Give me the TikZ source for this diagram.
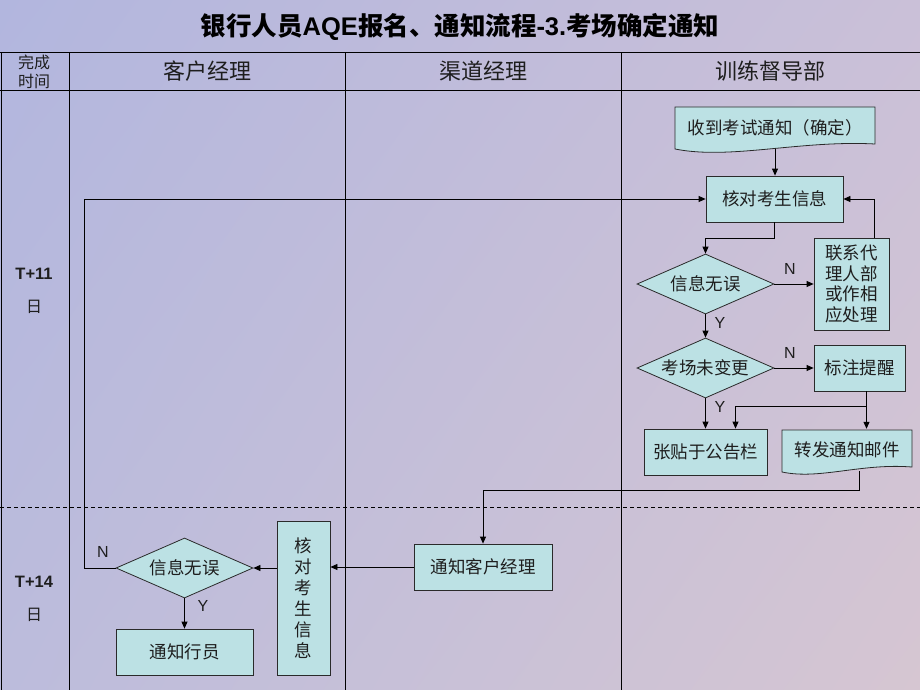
\documentclass[tikz,border=0pt]{standalone}
\usepackage{fontspec}
\setmainfont{Liberation Sans}
\newfontfamily\cjk{Noto Sans CJK SC}
\usetikzlibrary{shapes.geometric,arrows.meta,shadings}
\definecolor{boxfill}{HTML}{BCE1E4}
\definecolor{boxline}{HTML}{2A2A2A}
\definecolor{bgul}{RGB}{178,182,222}
\definecolor{bgur}{RGB}{202,192,216}
\definecolor{bgll}{RGB}{188,188,220}
\definecolor{bglr}{RGB}{214,198,210}
\definecolor{txt}{HTML}{1E1E1E}
\begin{document}
\begin{tikzpicture}[x=1pt,y=-1pt,
  box/.style={draw=boxline, fill=boxfill, line width=0.8pt, inner sep=0pt,
    font=\cjk\fontsize{17.5}{20.7}\selectfont, text=txt, align=center},
  doctext/.style={inner sep=0pt, font=\cjk\fontsize{17.5}{20.7}\selectfont, text=txt, align=center},
  docshape/.style={draw=boxline, fill=boxfill, line width=0.8pt},
  dia/.style={box, shape=diamond, aspect=2.28, minimum width=137pt, minimum height=60pt},
  arr/.style={-{Triangle[length=7pt,width=6pt]}, line width=0.8pt, draw=black},
  yn/.style={font=\fontsize{16}{16}\selectfont, text=txt},
  grid/.style={line width=1pt, draw=black},
  head/.style={font=\cjk\fontsize{22}{24}\selectfont, text=txt},
  timel/.style={font=\bfseries\fontsize{16.5}{18}\selectfont, text=txt},
  timed/.style={font=\cjk\fontsize{16}{18}\selectfont, text=txt}]
\useasboundingbox (0,0) rectangle (920,690);
\shade[upper left=bgul, upper right=bgur, lower left=bgll, lower right=bglr] (0,0) rectangle (920,690);

% title
\node[text=black] (title) at (460,27) {\fontsize{25.5}{28}\selectfont{\cjk\bfseries 银行人员}\textbf{AQE}{\cjk\bfseries 报名、通知流程}\textbf{-3.}{\cjk\bfseries 考场确定通知}};

% table
\draw[grid] (0,53) -- (920,53);
\draw[grid] (0,91) -- (920,91);
\draw[grid] (1,53) -- (1,690);
\draw[grid] (69,53) -- (69,690);
\draw[grid] (345,53) -- (345,690);
\draw[grid] (621,53) -- (621,690);
\draw[line width=0.8pt, dash pattern=on 4pt off 3pt] (0,507) -- (920,507);

\node[font=\cjk\fontsize{16}{19}\selectfont, text=txt, align=center, inner sep=0pt] (hd0) at (34,71.5) {完成\\时间};
\node[head] (hd1) at (207,71) {客户经理};
\node[head] (hd2) at (483,71) {渠道经理};
\node[head] (hd3) at (770,71) {训练督导部};

\node[timel] (t11) at (34,274) {T+11};
\node[timed] (d11) at (34,307) {日};
\node[timel] (t14) at (34,582) {T+14};
\node[timed] (d14) at (34,615) {日};

% document shapes
\path[docshape] (675,107) -- (875,107) -- (875,144) .. controls (800,140) and (730,160) .. (675,149) -- cycle;
\node[doctext, minimum width=200pt, minimum height=42pt] (R) at (775,128) {收到考试通知（确定）};
\path[docshape] (782,430) -- (912,430) -- (912,467) .. controls (860,463) and (820,480) .. (782,472) -- cycle;
\node[doctext, minimum width=130pt, minimum height=42pt] (F) at (847,450) {转发通知邮件};

% boxes
\node[box, minimum width=137pt, minimum height=46pt] (A) at (774.5,199) {核对考生信息};
\node[dia] (D1) at (705.5,284) {信息无误};
\node[box, minimum width=75pt, minimum height=92pt] (C) at (851.5,284) {联系代\\理人部\\或作相\\应处理};
\node[dia] (D2) at (705.5,368) {考场未变更};
\node[box, minimum width=91pt, minimum height=46pt] (N2) at (859.5,368) {标注提醒};
\node[box, minimum width=123pt, minimum height=46pt] (P) at (705.5,452) {张贴于公告栏};
\node[box, minimum width=138pt, minimum height=46pt] (M) at (483,567) {通知客户经理};
\node[box, minimum width=53pt, minimum height=154pt, font=\cjk\fontsize{17.5}{21}\selectfont] (V) at (303.5,598) {核\\对\\考\\生\\信\\息};
\node[dia] (D3) at (184.5,568) {信息无误};
\node[box, minimum width=137pt, minimum height=46pt] (O) at (184.5,652) {通知行员};

% connectors
\draw[arr] (R.south) -- (R.south |- A.north);
\draw[arr] (A.south) -- ++(0,16) -| (D1.north);
\draw[arr] (D1.east) -- (C.west);
\node[yn] (n1) at (790,269) {N};
\draw[arr] ([xshift=23pt]C.north) |- (A.east);
\draw[arr] (D1.south) -- (D2.north);
\node[yn] (y1) at (720,323) {Y};
\draw[arr] (D2.east) -- (N2.west);
\node[yn] (n2) at (790,353) {N};
\draw[arr] (D2.south) -- (P.north);
\node[yn] (y2) at (720,407) {Y};
\draw[arr] ([xshift=7pt]N2.south) -- ([xshift=7pt]N2.south |- F.north);
\draw[arr] ([xshift=7pt]N2.south) ++(0,15) -| ([xshift=30pt]P.north);
\draw[arr] ([xshift=12pt]F.south) -- ++(0,19) -| (M.north);
\draw[arr] (M.west) -- (M.west -| V.east);
\draw[arr] (V.west |- D3.east) -- (D3.east);
\draw[arr] (D3.west) -- ++(-31,0) |- (A.west);
\node[yn] (n3) at (103,552) {N};
\draw[arr] (D3.south) -- (O.north);
\node[yn] (y3) at (203,606) {Y};
\end{tikzpicture}
\end{document}
